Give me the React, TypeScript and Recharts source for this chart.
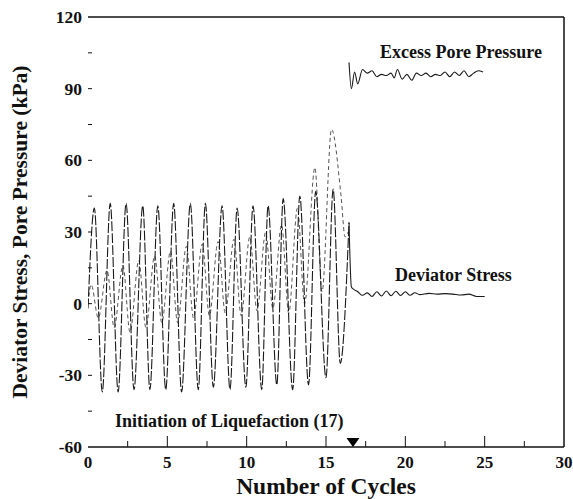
import React from 'react';
import { LineChart, Line, XAxis, YAxis, ReferenceLine, ReferenceDot } from 'recharts';

// Deviator stress during cyclic loading, up to the onset of liquefaction
const deviatorCyclicCycles = [
  0, 0.4, 0.9, 1.4, 1.9, 2.4, 2.9, 3.45, 3.9, 4.4, 4.9, 5.4, 5.9, 6.45, 6.95, 7.4, 7.9,
  8.45, 8.95, 9.4, 9.95, 10.4, 10.95, 11.35, 11.9, 12.3, 12.9, 13.35, 13.9, 14.35, 15.0,
  15.45, 15.9, 16.45,
];
const deviatorCyclicKPa = [
  -2, 40, -37, 42, -37, 42, -36, 41, -36, 41, -36, 42, -37, 42, -36, 42, -35,
  41, -36, 40, -35, 41, -36, 41, -34, 44, -36, 45, -34, 47, -31,
  48, -25, 34,
];

// Residual deviator stress after liquefaction
const deviatorLiqCycles = [
  16.45, 16.6, 16.75, 17.0, 17.3, 17.6, 17.9, 18.2, 18.5, 18.8, 19.1, 19.4,
  19.7, 20.0, 20.3, 20.6, 20.9, 21.5, 22.0, 22.5, 23.0, 23.5, 24.0, 24.5, 25.0,
];
const deviatorLiqKPa = [
  34, 7, 6, 5, 3.5, 4.5, 3, 5, 3.2, 5.3, 3.3, 5.2,
  3.4, 5, 3.5, 4.6, 3.8, 4.3, 4, 4.2, 4, 3.6, 4, 3, 3,
];

// Excess pore pressure while it builds up cycle by cycle
const poreBuildCycles = [
  0, 0.2, 0.65, 1.2, 1.65, 2.2, 2.65, 3.2, 3.65, 4.2, 4.65, 5.2, 5.65, 6.2, 6.65, 7.2, 7.65,
  8.2, 8.65, 9.2, 9.65, 10.2, 10.65, 11.2, 11.65, 12.2, 12.65, 13.2, 13.65, 14.3, 14.75,
  15.35, 15.95, 16.2, 16.4,
];
const poreBuildKPa = [
  0, 8, -6, 14, -10, 16, -12, 18, -10, 20, -8, 22, -8, 24, -6, 25, -5,
  26, -4, 27, -5, 28, -3, 30, -2, 33, -4, 40, 0, 57, 5,
  73, 45, 28, 30,
];

// Excess pore pressure after liquefaction, levelled off near the confining stress
const poreLiqCycles = [
  16.45, 16.6, 16.8, 17.0, 17.3, 17.6, 17.9, 18.2, 18.5, 18.8,
  19.1, 19.3, 19.5, 19.8, 20.1, 20.4, 20.7, 21.0, 21.3, 21.6, 21.9, 22.2, 22.5, 22.8,
  23.1, 23.4, 23.7, 24.0, 24.3, 24.6, 24.9,
];
const poreLiqKPa = [
  101, 90, 97, 92, 98, 96.5, 97.5, 95, 96, 95.5,
  96.5, 94.5, 98, 94, 96, 93.5, 96.5, 95.5, 96.5, 95, 96, 95.5, 97, 95,
  97, 95.5, 97.5, 95, 96.5, 97.5, 97,
];

const xTicks = [0, 2.5, 5, 7.5, 10, 12.5, 15, 17.5, 20, 22.5, 25, 27.5, 30];
const yTicks = [-60, -45, -30, -15, 0, 15, 30, 45, 60, 75, 90, 105, 120];

const liquefactionCycle = 16.7;

const toPoints = (cycles: number[], values: number[]) =>
  cycles.map((cycle, i) => ({ cycle, kPa: values[i] }));

const deviatorCyclicData = toPoints(deviatorCyclicCycles, deviatorCyclicKPa);
const deviatorLiqData = toPoints(deviatorLiqCycles, deviatorLiqKPa);
const poreBuildData = toPoints(poreBuildCycles, poreBuildKPa);
const poreLiqData = toPoints(poreLiqCycles, poreLiqKPa);

const FONT = "'Liberation Serif', 'Times New Roman', serif";
const INK = '#111';
const X_GAP = 15;
const Y_GAP = 6;

function XTick(props: any) {
  const { x, y, payload } = props;
  const v = payload.value as number;
  const axisY = y - X_GAP;
  const major = v % 5 === 0;
  return (
    <g>
      {v > 0 && v < 30 && (
        <line x1={x} x2={x} y1={axisY} y2={axisY - (major ? 11 : 6)} stroke={INK} strokeWidth={1} />
      )}
      {major && (
        <text x={x} y={y} textAnchor="middle" dominantBaseline="central" fontFamily={FONT}
          fontWeight="bold" fontSize={17} fill={INK}>{v}</text>
      )}
    </g>
  );
}

function YTick(props: any) {
  const { x, y, payload } = props;
  const v = payload.value as number;
  const axisX = x + Y_GAP;
  const major = v % 30 === 0;
  return (
    <g>
      {v > -60 && v < 120 && (
        <line x1={axisX} x2={axisX + 4} y1={y} y2={y} stroke={INK} strokeWidth={1} />
      )}
      {major && (
        <text x={x} y={y} textAnchor="end" dominantBaseline="central" fontFamily={FONT}
          fontWeight="bold" fontSize={17.5} fill={INK}>{v}</text>
      )}
    </g>
  );
}

function XTitle(props: any) {
  const { x, y, width } = props.viewBox;
  return (
    <text x={x + width / 2} y={y + 39} textAnchor="middle" dominantBaseline="central"
      fontFamily={FONT} fontWeight="bold" fontSize={23.5} fill={INK}>Number of Cycles</text>
  );
}

function YTitle(props: any) {
  const { x, y, height } = props.viewBox;
  const cx = x + 20;
  const cy = y + height / 2;
  return (
    <text x={cx} y={cy} transform={`rotate(-90 ${cx} ${cy})`} textAnchor="middle"
      dominantBaseline="central" fontFamily={FONT} fontWeight="bold" fontSize={21.5} fill={INK}>
      Deviator Stress, Pore Pressure (kPa)
    </text>
  );
}

const note = (text: string) => (p: any) => (
  <text x={p.cx} y={p.cy} textAnchor="start" dominantBaseline="central" fontFamily={FONT}
    fontWeight="bold" fontSize={18} fill={INK}>{text}</text>
);

const triangle = (p: any) => (
  <path d={`M${p.cx - 6.5},${p.cy - 9} L${p.cx + 6.5},${p.cy - 9} L${p.cx},${p.cy} Z`} fill="#000" />
);

export default function App() {
  return (
    <div style={{ position: 'absolute', left: 0, top: 0 }}>
      <LineChart width={573} height={499} margin={{ top: 17, right: 9, bottom: 0, left: 0 }}>
        <XAxis type="number" dataKey="cycle" domain={[0, 30]} ticks={xTicks} allowDataOverflow
          height={52} tickSize={0} tickMargin={X_GAP} tickLine={false}
          axisLine={{ stroke: INK, strokeWidth: 1.5 }} tick={<XTick />} interval={0}
          label={<XTitle />} />
        <YAxis type="number" domain={[-60, 120]} ticks={yTicks} allowDataOverflow width={88}
          tickSize={0} tickMargin={Y_GAP} tickLine={false} axisLine={false} tick={<YTick />}
          interval={0} label={<YTitle />} />
        <ReferenceLine y={120} stroke={INK} strokeWidth={1.5} />
        <ReferenceLine x={30} stroke={INK} strokeWidth={1.5} />
        <Line data={poreBuildData} dataKey="kPa" type="monotone" dot={false} stroke="#555"
          strokeWidth={1} strokeDasharray="4 3" isAnimationActive={false} />
        <Line data={deviatorCyclicData} dataKey="kPa" type="monotone" dot={false} stroke="#1a1a1a"
          strokeWidth={1.1} strokeDasharray="10 2" isAnimationActive={false} />
        <Line data={deviatorLiqData} dataKey="kPa" type="monotone" dot={false} stroke="#1a1a1a"
          strokeWidth={1.1} isAnimationActive={false} />
        <Line data={poreLiqData} dataKey="kPa" type="monotone" dot={false} stroke="#1a1a1a"
          strokeWidth={1.1} isAnimationActive={false} />
        <ReferenceDot x={liquefactionCycle} y={-60} r={0} ifOverflow="visible" shape={triangle} />
        <ReferenceDot x={18.4} y={105.4} r={0} ifOverflow="visible" shape={note('Excess Pore Pressure')} />
        <ReferenceDot x={19.35} y={12.1} r={0} ifOverflow="visible" shape={note('Deviator Stress')} />
        <ReferenceDot x={1.7} y={-49} r={0} ifOverflow="visible"
          shape={note('Initiation of Liquefaction (17)')} />
      </LineChart>
    </div>
  );
}
